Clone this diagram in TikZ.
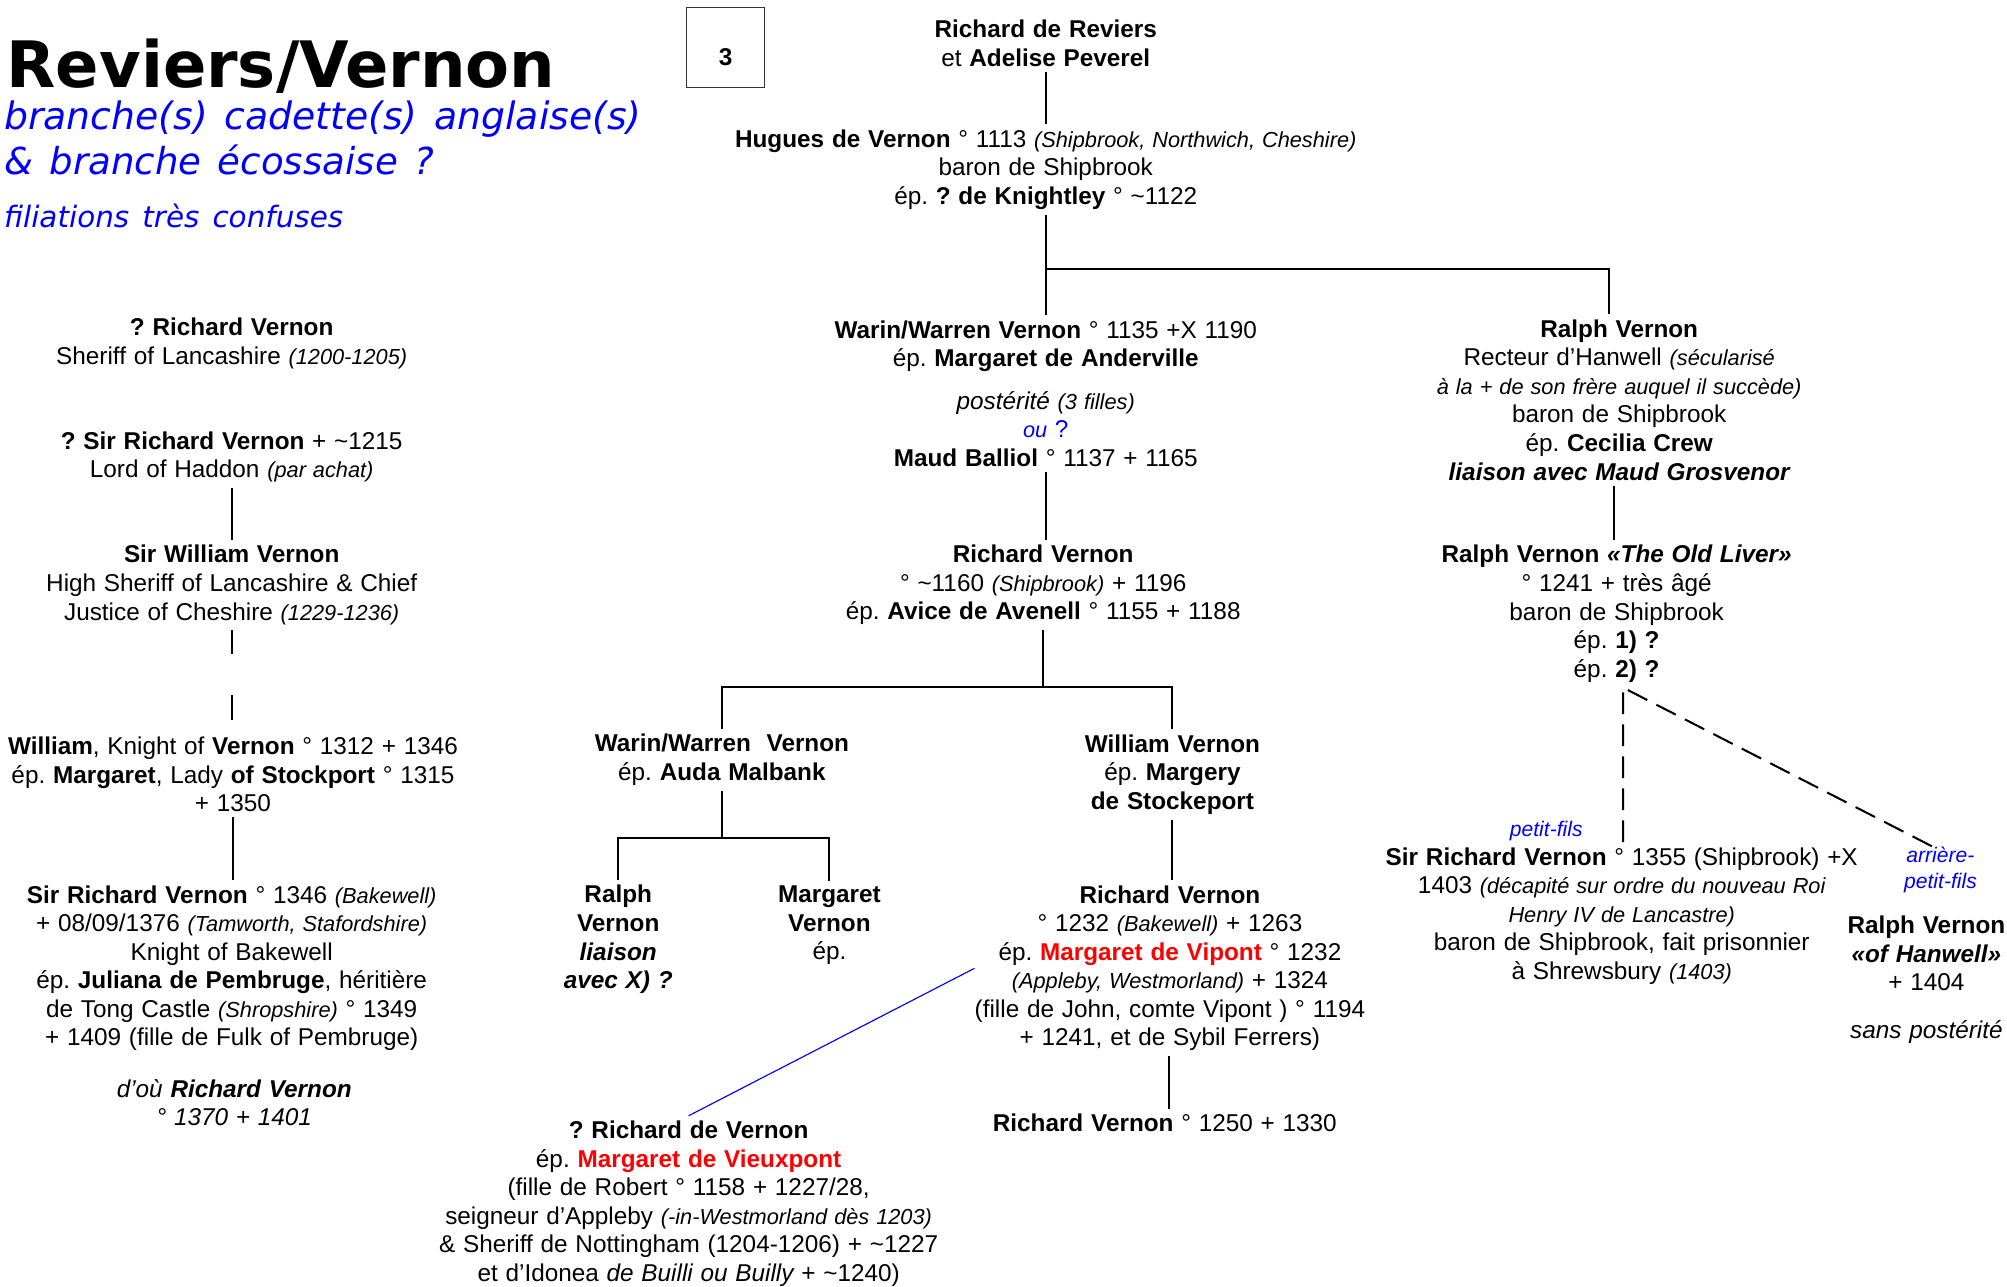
\documentclass[tikz,border=0pt]{standalone}
\usepackage{fontspec}
\setmainfont{Liberation Sans}[WordSpace=1.15]
\newfontfamily\titlefont{DejaVu Sans}[WordSpace=1.4]
\frenchspacing
\definecolor{fblue}{RGB}{0,0,255}
\definecolor{fred}{RGB}{255,0,0}
\newcommand{\sm}[1]{{\fontsize{17}{22.3}\selectfont\itshape #1}}
\newcommand{\tild}{\textasciitilde}
\tikzset{
  pers/.style={align=center, inner xsep=0pt, inner ysep=4pt, font=\fontsize{19}{22.3}\selectfont},
  conn/.style={line width=1.6pt},
  dline/.style={line width=1.6pt, dash pattern=on 17pt off 8pt},
  gapline/.style={line width=1.6pt, dash pattern=on 19pt off 32pt},
  bline/.style={draw=fblue, line width=0.9pt},
  note/.style={align=center, inner sep=0pt, text=fblue, font=\fontsize{16.5}{20}\selectfont\itshape}
}
\begin{document}
\begin{tikzpicture}[x=1pt,y=1pt]
\useasboundingbox (0,0) rectangle (1568,-1005);
\fill[white] (0,0) rectangle (1568,-1005);

% title block
\node[anchor=base west, inner sep=0pt, font=\titlefont\bfseries\fontsize{50}{50}\selectfont] (title) at (5,-68) {Reviers/Vernon};
\node[anchor=base west, inner sep=0pt, text=fblue, font=\titlefont\itshape\fontsize{29.5}{29.5}\selectfont] (sub1) at (3,-101) {branche(s) cadette(s) anglaise(s)};
\node[anchor=base west, inner sep=0pt, text=fblue, font=\titlefont\itshape\fontsize{29}{29}\selectfont] (sub2) at (3,-136) {\& branche écossaise ?};
\node[anchor=base west, inner sep=0pt, text=fblue, font=\titlefont\itshape\fontsize{23}{24}\selectfont] (sub3) at (3,-178) {filiations très confuses};

\node[draw=black!80, line width=0.8pt, minimum width=61pt, minimum height=62pt, inner sep=0pt] (box3) at (566.5,-37) {};
\node[inner sep=0pt, font=\bfseries\fontsize{19}{22}\selectfont] (num3) at (567,-45) {3};

% central column
\node[pers] (reviers) at (817,-34) {{\bfseries Richard de Reviers}\\et {\bfseries Adelise Peverel}};
\node[pers] (hugues) at (817,-132.5) {{\bfseries Hugues de Vernon} ° 1113 \sm{(Shipbrook, Northwich, Cheshire)}\\baron de Shipbrook\\ép. {\bfseries ? de Knightley} ° \tild1122};
\node[pers] (warin) at (817,-307.5) {{\bfseries Warin/Warren Vernon} ° 1135 +X 1190\\ép. {\bfseries Margaret de Anderville}\\[11pt]{\itshape postérité} \sm{(3 filles)}\\{\color{fblue}\sm{ou} ?}\\{\bfseries Maud Balliol} ° 1137 + 1165};
\node[pers] (richard1) at (815,-457) {{\bfseries Richard Vernon}\\° \tild1160 \sm{(Shipbrook)} + 1196\\ép. {\bfseries Avice de Avenell} ° 1155 + 1188};
\node[pers] (warin2) at (564,-593.5) {{\bfseries Warin/Warren\ \ Vernon}\\ép. {\bfseries Auda Malbank}};
\node[pers] (ralph2) at (483,-734) {{\bfseries Ralph}\\{\bfseries Vernon}\\{\bfseries\itshape liaison}\\{\bfseries\itshape avec X) ?}};
\node[pers] (margaret2) at (648,-723) {{\bfseries Margaret}\\{\bfseries Vernon}\\ép.};
\node[pers] (william2) at (916,-605) {{\bfseries William Vernon}\\ép. {\bfseries Margery}\\{\bfseries de Stockeport}};
\node[pers] (richard3) at (914,-756.5) {{\bfseries Richard Vernon}\\° 1232 \sm{(Bakewell)} + 1263\\ép. {\bfseries\color{fred}Margaret de Vipont} ° 1232\\\sm{(Appleby, Westmorland)} + 1324\\(fille de John, comte Vipont ) ° 1194\\+ 1241, et de Sybil Ferrers)};
\node[pers] (richard4) at (910,-877.5) {{\bfseries Richard Vernon} ° 1250 + 1330};
\node[pers] (richard5) at (538,-940.5) {{\bfseries ? Richard de Vernon}\\ép. {\bfseries\color{fred}Margaret de Vieuxpont}\\(fille de Robert ° 1158 + 1227/28,\\seigneur d’Appleby \sm{(-in-Westmorland dès 1203)}\\\& Sheriff de Nottingham (1204-1206) + \tild1227\\et d’Idonea {\itshape de Builli ou Builly} + \tild1240)};

% left column
\node[pers] (lrichard1) at (181,-268.5) {{\bfseries ? Richard Vernon}\\Sheriff of Lancashire \sm{(1200-1205)}};
\node[pers] (lrichard2) at (181,-357) {{\bfseries ? Sir Richard Vernon} + \tild1215\\Lord of Haddon \sm{(par achat)}};
\node[pers] (lwilliam1) at (181,-457) {{\bfseries Sir William Vernon}\\High Sheriff of Lancashire \& Chief\\Justice of Cheshire \sm{(1229-1236)}};
\node[pers] (lwilliam2) at (182,-605) {{\bfseries William}, Knight of {\bfseries Vernon} ° 1312 + 1346\\ép. {\bfseries Margaret}, Lady {\bfseries of Stockport} ° 1315\\+ 1350};
\node[pers] (lrichard3) at (181,-756.5) {{\bfseries Sir Richard Vernon} ° 1346 \sm{(Bakewell)}\\+ 08/09/1376 \sm{(Tamworth, Stafordshire)}\\Knight of Bakewell\\ép. {\bfseries Juliana de Pembruge}, héritière\\de Tong Castle \sm{(Shropshire)} ° 1349\\+ 1409 (fille de Fulk of Pembruge)};
\node[pers] (ldou) at (183,-861.5) {{\itshape d’où {\bfseries Richard Vernon}}\\{\itshape ° 1370 + 1401}};

% right column
\node[pers] (ralph1) at (1265,-312.5) {{\bfseries Ralph Vernon}\\Recteur d’Hanwell \sm{(sécularisé}\\\sm{à la + de son frère auquel il succède)}\\baron de Shipbrook\\ép. {\bfseries Cecilia Crew}\\{\bfseries\itshape liaison avec Maud Grosvenor}};
\node[pers] (ralph3) at (1263,-479.5) {{\bfseries Ralph Vernon {\itshape «The Old Liver»}}\\° 1241 + très âgé\\baron de Shipbrook\\ép. {\bfseries 1) ?}\\ép. {\bfseries 2) ?}};
\node[note] (petitfils) at (1208,-649.5) {petit-fils};
\node[pers] (rsir) at (1267,-715.5) {{\bfseries Sir Richard Vernon} ° 1355 (Shipbrook) +X\\1403 \sm{(décapité sur ordre du nouveau Roi}\\\sm{Henry IV de Lancastre)}\\baron de Shipbrook, fait prisonnier\\à Shrewsbury \sm{(1403)}};
\node[note] (arriere) at (1516,-679.5) {arrière-\\petit-fils};
\node[pers] (ralph4) at (1505,-765.5) {{\bfseries Ralph Vernon}\\{\bfseries\itshape «of Hanwell»}\\+ 1404\\[15pt]{\itshape sans postérité}};

% connectors
\coordinate (j1) at (817,-210);
\coordinate (j2) at (815,-537);
\coordinate (j3) at (563,-655);
\draw[conn] (reviers.south) -- (hugues.north);
\draw[conn] (hugues.south) -- (warin.north);
\draw[conn] (j1) -| ([xshift=-8pt]ralph1.north);
\draw[conn] (warin.south) -- (warin.south |- richard1.north);
\draw[conn] (richard1.south) -- (j2);
\draw[conn] (warin2.north) -- (warin2.north |- j2) -- (william2.north |- j2) -- (william2.north);
\draw[conn] (warin2.south) -- (warin2.south |- j3);
\draw[conn] (ralph2.north) -- (ralph2.north |- j3) -- (margaret2.north |- j3) -- (margaret2.north);
\draw[conn] (william2.south) -- (william2.south |- richard3.north);
\draw[conn] ([xshift=-1pt]richard3.south) -- ([xshift=-1pt]richard3.south |- richard4.north);
\draw[bline] (richard3.west) -- (richard5.north);

\draw[conn] (lrichard2.south) -- (lrichard2.south |- lwilliam1.north);
\draw[gapline] (lwilliam1.south) -- (lwilliam1.south |- lwilliam2.north);
\draw[conn] (lwilliam2.south) -- (lwilliam2.south |- lrichard3.north);

\draw[conn] ([xshift=-4pt]ralph1.south) -- ([xshift=-4pt]ralph1.south |- ralph3.north);
\draw[dline] ([xshift=1pt]rsir.north) -- ([xshift=1pt]rsir.north |- ralph3.south) -- ([xshift=-6pt]arriere.north);
\end{tikzpicture}
\end{document}
